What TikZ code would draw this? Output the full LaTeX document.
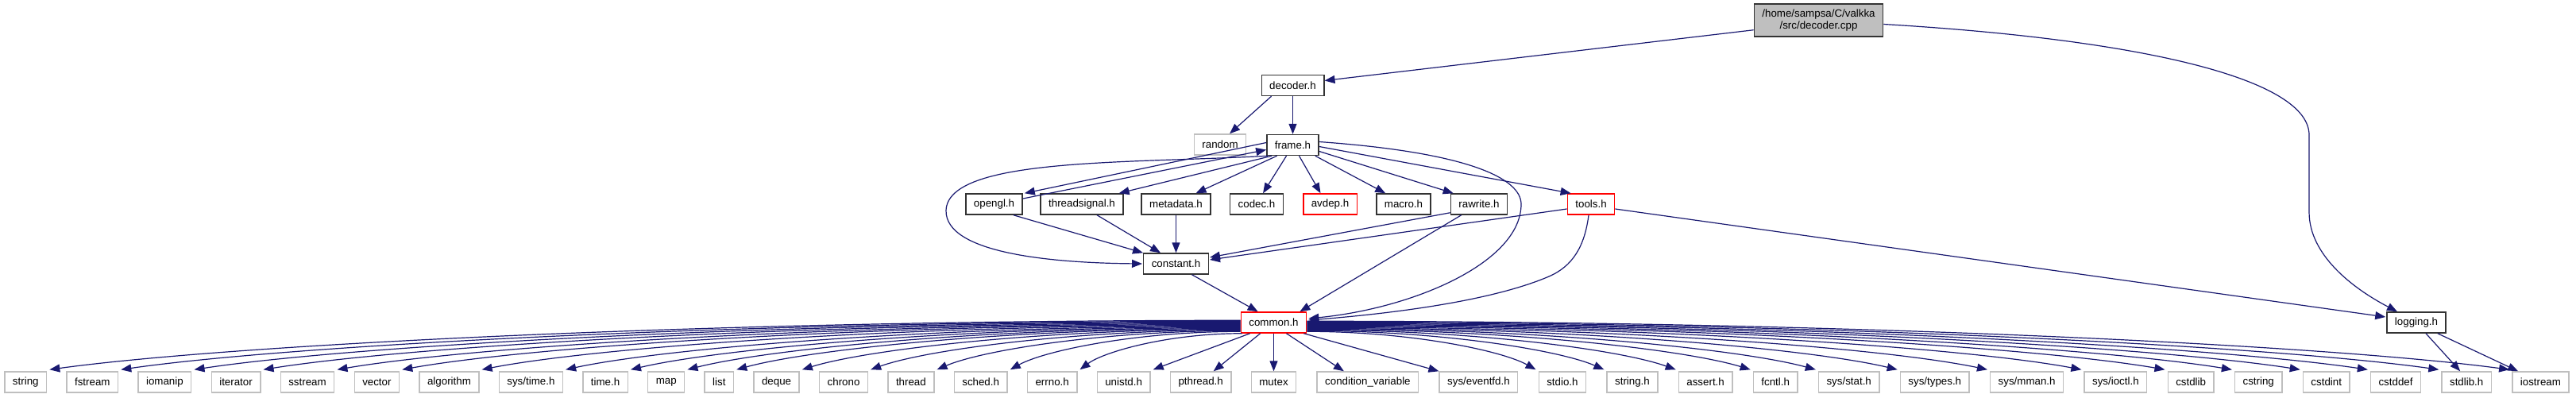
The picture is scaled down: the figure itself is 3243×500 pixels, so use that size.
\documentclass[tikz,border=0pt]{standalone}
\usepackage{fontspec}
\setmainfont{Liberation Sans}
\usetikzlibrary{arrows.meta,calc}
\definecolor{edgecol}{HTML}{191970}
\definecolor{bordcol}{HTML}{333333}
\definecolor{graycol}{HTML}{BFBFBF}
\definecolor{redcol}{HTML}{FF0000}
\begin{document}
\begin{tikzpicture}[x=0.75pt,y=-0.75pt,
  box/.style={draw=bordcol, line width=1.1pt, fill=white, inner xsep=7.5pt, inner ysep=0pt,
    minimum height=19.5pt, font=\fontsize{10pt}{12pt}\selectfont, text=black},
  redbox/.style={box, draw=redcol},
  sysbox/.style={box, draw=graycol},
  edge/.style={draw=edgecol, line width=0.9pt, -{Triangle[length=9.75pt,width=7.5pt]}}]
\useasboundingbox (0,0) rectangle (3243,500);

% ---- upper nodes
\node[box, fill=graycol, minimum height=30.75pt, align=center,
      font=\fontsize{10pt}{10.7pt}\selectfont] (top) at (2289.5,25.5) {/home/sampsa/C/valkka\\/src/decoder.cpp};
\node[box] (decoder) at (1627.5,107.5) {decoder.h};
\node[sysbox] (random) at (1536,182) {random};
\node[box] (frame) at (1627.5,182.5) {frame.h};
\node[box] (opengl) at (1251.5,257) {opengl.h};
\node[box] (threadsignal) at (1362,257) {threadsignal.h};
\node[box] (metadata) at (1480.5,257) {metadata.h};
\node[box] (codec) at (1582,257) {codec.h};
\node[redbox] (avdep) at (1674.5,257) {avdep.h};
\node[box] (macro) at (1767,257) {macro.h};
\node[box] (rawrite) at (1862,257) {rawrite.h};
\node[redbox] (tools) at (2003,257) {tools.h};
\node[box] (constant) at (1480.5,332) {constant.h};
\node[redbox] (common) at (1603.5,406) {common.h};
\node[box] (logging) at (3042,406) {logging.h};

% ---- bottom row
\node[sysbox] (string) at (32.3,481) {string};
\node[sysbox] (fstream) at (116.33,481) {fstream};
\node[sysbox] (iomanip) at (207.41,481) {iomanip};
\node[sysbox] (iterator) at (297.04,481) {iterator};
\node[sysbox] (sstream) at (387.02,481) {sstream};
\node[sysbox] (vector) at (474.4,481) {vector};
\node[sysbox] (algorithm) at (565.48,481) {algorithm};
\node[sysbox] (systime) at (668.41,481) {sys/time.h};
\node[sysbox] (timeh) at (762.09,481) {time.h};
\node[sysbox] (map) at (838.72,481) {map};
\node[sysbox] (list) at (905.35,481) {list};
\node[sysbox] (deque) at (977.58,481) {deque};
\node[sysbox] (chrono) at (1062.06,481) {chrono};
\node[sysbox] (thread) at (1146.89,481) {thread};
\node[sysbox] (sched) at (1234.67,481) {sched.h};
\node[sysbox] (errno) at (1324.65,481) {errno.h};
\node[sysbox] (unistd) at (1414.63,481) {unistd.h};
\node[sysbox] (pthread) at (1511.66,481) {pthread.h};
\node[sysbox] (mutex) at (1603.5,481) {mutex};
\node[sysbox] (condvar) at (1721.91,481) {condition\_variable};
\node[sysbox] (eventfd) at (1861.43,481) {sys/eventfd.h};
\node[sysbox] (stdio) at (1966.9,481) {stdio.h};
\node[sysbox] (stringh) at (2054.97,481) {string.h};
\node[sysbox] (assert) at (2147.09,481) {assert.h};
\node[sysbox] (fcntl) at (2235.16,481) {fcntl.h};
\node[sysbox] (sysstat) at (2327.68,481) {sys/stat.h};
\node[sysbox] (systypes) at (2435.75,481) {sys/types.h};
\node[sysbox] (sysmman) at (2551.62,481) {sys/mman.h};
\node[sysbox] (sysioctl) at (2663.39,481) {sys/ioctl.h};
\node[sysbox] (cstdlib) at (2758.11,481) {cstdlib};
\node[sysbox] (cstring) at (2843.23,481) {cstring};
\node[sysbox] (cstdint) at (2928.7,481) {cstdint};
\node[sysbox] (cstddef) at (3016.02,481) {cstddef};
\node[sysbox] (stdlib) at (3105.19,481) {stdlib.h};
\node[sysbox] (iostream) at (3198.41,481) {iostream};

% ---- upper edges
\draw[edge] ($(top.south west)+(0,-9)$) -- ($(decoder.east)+(0,-6)$);
\draw[edge] ($(top.east)+(0,5)$) .. controls (2700,50) and (2907,100) .. (2907,170)
  -- (2907,267) .. controls (2907,320) and (2960,362) .. ($(logging.north)+(-24,0)$);
\draw[edge] ($(decoder.south)+(-27,0)$) -- ($(random.north)+(12,0)$);
\draw[edge] (decoder) -- (frame);
\draw[edge] ($(frame.west)+(0,-3)$) -- ($(opengl.north east)+(2,0)$);
\draw[edge] ($(opengl.east)+(0,-7)$) -- ($(frame.west)+(0,6)$);
\draw[edge] ($(frame.south west)+(7,0)$) -- ($(threadsignal.north east)+(-6,0)$);
\draw[edge] ($(frame.south)+(-20,0)$) -- ($(metadata.north)+(25,0)$);
\draw[edge] ($(frame.south)+(-8,0)$) -- ($(codec.north)+(8,0)$);
\draw[edge] ($(frame.south)+(8,0)$) -- ($(avdep.north)+(-12,0)$);
\draw[edge] ($(frame.south east)+(-5,0)$) -- ($(macro.north west)+(12,0)$);
\draw[edge] ($(frame.east)+(0,8)$) -- ($(rawrite.north west)+(4,0)$);
\draw[edge] ($(frame.east)+(0,2)$) -- ($(tools.north west)+(5,0)$);
\draw[edge] ($(frame.south west)+(2,0)$) .. controls (1420,206) and (1193,198) .. (1191,265)
  .. controls (1190,320) and (1330,331) .. ($(constant.west)+(-1,0)$);
\draw[edge] ($(frame.east)+(0,-4)$) .. controls (1850,192) and (1915,225) .. (1915,257)
  .. controls (1915,330) and (1780,388) .. ($(common.east)+(2,-5)$);
\draw[edge] ($(opengl.south east)+(-12,0)$) -- (constant.north west);
\draw[edge] ($(threadsignal.south)+(19,0)$) -- ($(constant.north west)+(22,0)$);
\draw[edge] (metadata) -- (constant);
\draw[edge] ($(rawrite.south west)+(0,-3)$) -- ($(constant.east)+(1,-8)$);
\draw[edge] ($(tools.west)+(0,6)$) -- ($(constant.east)+(1,-5)$);
\draw[edge] ($(rawrite.south west)+(14,0)$) -- ($(common.north east)+(-9,0)$);
\draw[edge] ($(constant.south)+(20,0)$) -- ($(common.north west)+(22,0)$);
\draw[edge] ($(tools.south)+(-3,0)$) .. controls (1995,310) and (1980,335) .. (1950,348)
  .. controls (1880,378) and (1760,394) .. ($(common.east)+(2,-3)$);
\draw[edge] ($(tools.east)+(0,6)$) -- ($(logging.west)+(-1,-7)$);
\draw[edge] ($(logging.south)+(12,0)$) -- ($(stdlib.north)+(-8,0)$);
\draw[edge] ($(logging.south east)+(-11,0)$) -- ($(iostream.north west)+(8,0)$);

% ---- fan from common.h
\foreach \nm/\dy in {string/11, fstream/12, iomanip/13, iterator/14, sstream/15, vector/16,
    algorithm/17, systime/18, timeh/19, map/20, list/21, deque/22, chrono/23, thread/24, sched/25}{
  \path ($(common.north west)+(0,\dy)$) coordinate (S)
        ($(\nm.north east)+(3,-2)$) coordinate (T);
  \path ($(S)!0.45!(T)$) coordinate (ca) ($(T)!0.15!(S)$) coordinate (cb) ($(S)!0.5!(T)$) coordinate (cm);
  \draw[edge] (S) .. controls (ca |- S) and (cb |- cm) .. (T);
}
\path ($(common.south west)+(2,0)$) coordinate (S) ($(errno.north east)+(3,-2)$) coordinate (T);
\path ($(S)!0.45!(T)$) coordinate (ca) ($(T)!0.15!(S)$) coordinate (cb) ($(S)!0.5!(T)$) coordinate (cm);
\draw[edge] (S) .. controls (ca |- S) and (cb |- cm) .. (T);

\draw[edge] ($(common.south west)+(12,0)$) -- ($(unistd.north east)+(3,-2)$);
\draw[edge] ($(common.south west)+(25,0)$) -- ($(pthread.north)+(16,0)$);
\draw[edge] (common) -- (mutex);
\draw[edge] ($(common.south)+(16,0)$) -- ($(condvar.north)+(-30,0)$);
\draw[edge] ($(common.south east)+(-4,0)$) -- (eventfd.north west);

\foreach \nm/\dy in {stdio/25, stringh/24, assert/23, fcntl/22, sysstat/21, systypes/20,
    sysmman/19, sysioctl/18, cstdlib/17, cstring/16, cstdint/15, cstddef/14, stdlib/13, iostream/12}{
  \path ($(common.north east)+(0,\dy)$) coordinate (S)
        ($(\nm.north west)+(-3,-2)$) coordinate (T);
  \path ($(S)!0.45!(T)$) coordinate (ca) ($(T)!0.15!(S)$) coordinate (cb) ($(S)!0.5!(T)$) coordinate (cm);
  \draw[edge] (S) .. controls (ca |- S) and (cb |- cm) .. (T);
}
\end{tikzpicture}
\end{document}
